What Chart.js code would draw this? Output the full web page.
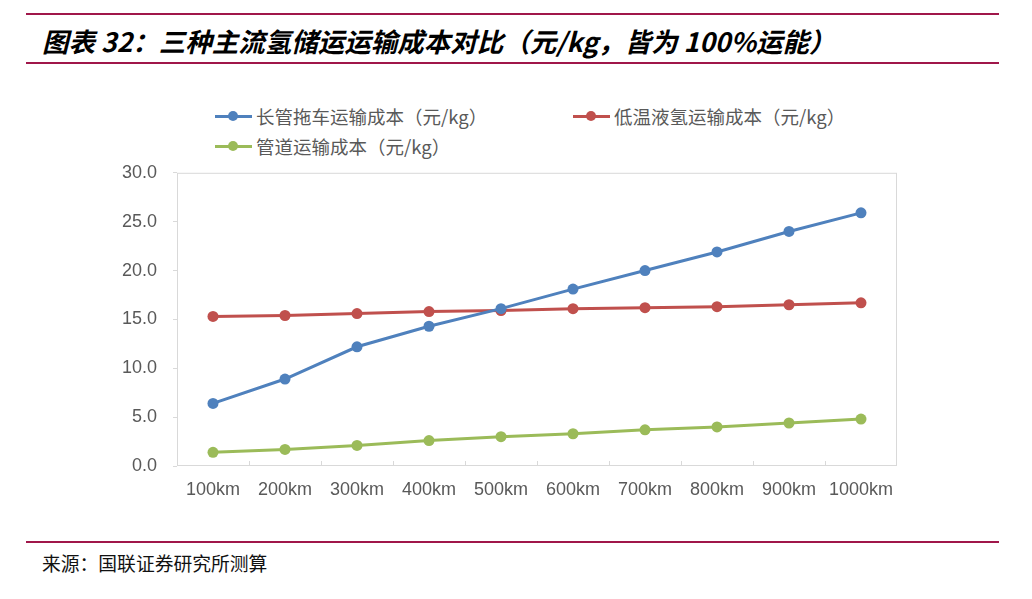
<!DOCTYPE html>
<html>
<head>
<meta charset="utf-8">
<script src="https://cdn.jsdelivr.net/npm/chart.js@4.4.0/dist/chart.umd.min.js"></script>
<style>
    body { margin: 0; width: 1032px; height: 599px; background: #fff; position: relative; overflow: hidden; font-family: "Liberation Sans", Arial, sans-serif; }
    .rule { position: absolute; left: 26px; width: 973px; height: 2px; background: #a0174a; }
    #title { position: absolute; left: 42px; top: 25px; font-family: "Noto Sans CJK SC", sans-serif; font-weight: bold; font-style: italic; font-size: 26.5px; line-height: 32px; color: #000; white-space: nowrap; }
    #source { position: absolute; left: 42px; top: 551px; font-family: "Noto Sans CJK SC", serif; font-size: 18.8px; line-height: 24px; color: #111; }
    .legend-item { position: absolute; font-family: "Noto Sans CJK SC", sans-serif; font-size: 18.5px; color: #595959; white-space: nowrap; line-height: 20px; }
    .legend-item .mk { display: inline-block; position: relative; width: 37px; height: 20px; vertical-align: top; margin-right: 4px; }
    .legend-item .mk i { position: absolute; left: 0; top: 9px; width: 37px; height: 3px; }
    .legend-item .mk b { position: absolute; left: 13px; top: 5px; width: 10px; height: 10px; border-radius: 50%; }
    #wrap { position: absolute; left: 0; top: 146px; width: 1032px; height: 364px; }
</style>
</head>
<body>
<div class="rule" style="top:13px"></div>
<div class="rule" style="top:62px"></div>
<div id="title">图表 32：三种主流氢储运运输成本对比（元/kg，皆为 100%运能）</div>
<div id="legend"></div>
<div id="wrap"><canvas id="lineChart"></canvas></div>
<div class="rule" style="top:541px"></div>
<div id="source">来源：国联证券研究所测算</div>

<script>
// Data
const categories = ['100km', '200km', '300km', '400km', '500km', '600km', '700km', '800km', '900km', '1000km'];
const tubeTrailer = [6.4, 8.9, 12.2, 14.3, 16.1, 18.1, 20.0, 21.9, 24.0, 25.9];
const liquidH2 = [15.3, 15.4, 15.6, 15.8, 15.9, 16.1, 16.2, 16.3, 16.5, 16.7];
const pipeline = [1.4, 1.7, 2.1, 2.6, 3.0, 3.3, 3.7, 4.0, 4.4, 4.8];
const yTicks = [0, 5, 10, 15, 20, 25, 30];

const series = [
    { label: '长管拖车运输成本（元/kg）', data: tubeTrailer, color: '#4f81bd', left: 215, top: 106 },
    { label: '低温液氢运输成本（元/kg）', data: liquidH2, color: '#c0504d', left: 573, top: 106 },
    { label: '管道运输成本（元/kg）', data: pipeline, color: '#9bbb59', left: 215, top: 136 }
];

// HTML legend
const legendEl = document.getElementById('legend');
series.forEach(s => {
    const div = document.createElement('div');
    div.className = 'legend-item';
    div.style.left = s.left + 'px';
    div.style.top = s.top + 'px';
    div.innerHTML = `<span class="mk"><i style="background:${s.color}"></i><b style="background:${s.color}"></b></span>${s.label}`;
    legendEl.appendChild(div);
});

// frame + inward category ticks
const framePlugin = {
    id: 'frame',
    afterDraw(chart) {
        const { ctx, chartArea: a, scales } = chart;
        ctx.save();
        ctx.strokeStyle = '#d9d9d9';
        ctx.lineWidth = 1;
        ctx.strokeRect(a.left + 0.5, a.top + 0.5, a.right - a.left - 1, a.bottom - a.top - 1);
        const x = scales.x;
        ctx.beginPath();
        for (let i = 0; i < categories.length - 1; i++) {
            const px = Math.round((x.getPixelForTick(i) + x.getPixelForTick(i + 1)) / 2) + 0.5;
            ctx.moveTo(px, a.bottom);
            ctx.lineTo(px, a.bottom - 5);
        }
        ctx.stroke();
        ctx.restore();
    }
};

const ctx = document.getElementById('lineChart').getContext('2d');
const lineChart = new Chart(ctx, {
    type: 'line',
    data: {
        labels: categories,
        datasets: series.map(s => ({
            label: s.label,
            data: s.data,
            borderColor: s.color,
            backgroundColor: s.color,
            borderWidth: 3,
            pointRadius: 5.5,
            pointHoverRadius: 5.5,
            pointBorderWidth: 0,
            tension: 0
        }))
    },
    options: {
        responsive: true,
        maintainAspectRatio: false,
        animation: false,
        layout: { padding: { left: 0, right: 135, top: 20, bottom: 0 } },
        plugins: { legend: { display: false }, tooltip: { enabled: false } },
        scales: {
            x: {
                offset: true,
                grid: { display: false },
                border: { display: false },
                ticks: { color: '#595959', font: { family: 'Liberation Sans', size: 18 }, padding: 5, maxRotation: 0, autoSkip: false },
                afterFit: (scale) => { scale.height = 44; }
            },
            y: {
                min: 0,
                max: 30,
                afterBuildTicks: (scale) => { scale.ticks = yTicks.map(v => ({ value: v })); },
                grid: { drawOnChartArea: false, color: '#d9d9d9', tickLength: 4 },
                border: { display: false },
                ticks: { color: '#595959', font: { family: 'Liberation Sans', size: 18 }, padding: 16, callback: v => v.toFixed(1) },
                afterFit: (scale) => { scale.width = 177; }
            }
        }
    },
    plugins: [framePlugin]
});
</script>
</body>
</html>
